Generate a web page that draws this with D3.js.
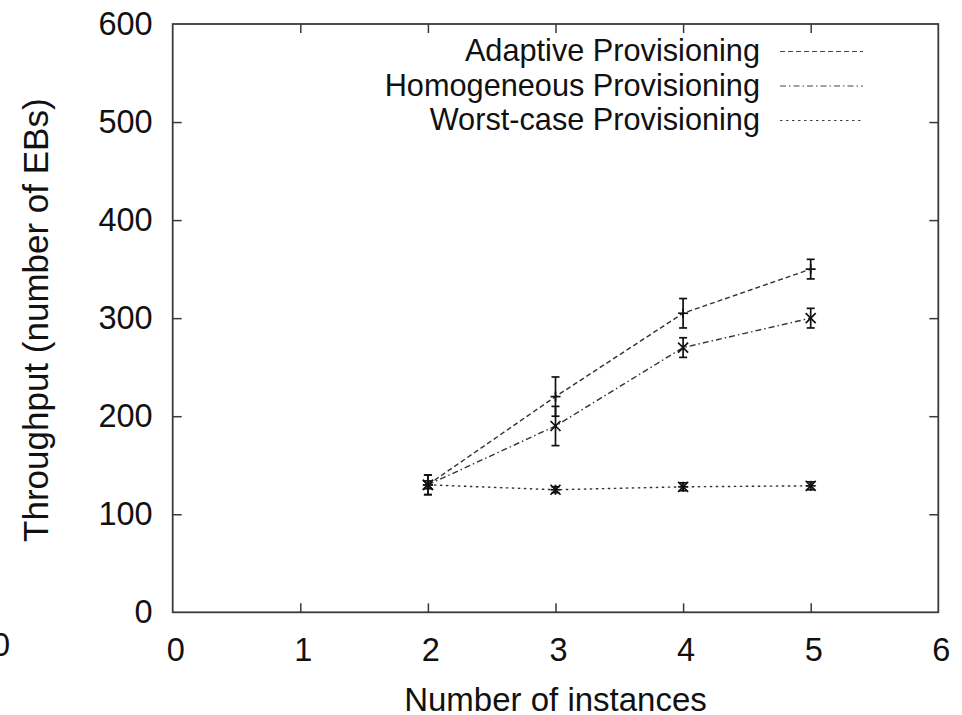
<!DOCTYPE html>
<html>
<head>
<meta charset="utf-8">
<script src="https://cdn.jsdelivr.net/npm/d3@7/dist/d3.min.js"></script>
<style>
  html, body { margin: 0; padding: 0; background: #fff; }
  svg { display: block; font-family: "Liberation Sans", Arial, Helvetica, sans-serif; }
</style>
</head>
<body>
<svg id="chart" width="962" height="715"></svg>
<script>
// ---- data ----
const instances = [2, 3, 4, 5];
const adaptiveMean = [130, 220, 305, 350];
const adaptiveLow  = [120, 200, 290, 340];
const adaptiveHigh = [140, 240, 320, 360];
const homogeneousMean = [130, 190, 270, 300];
const homogeneousLow  = [120, 170, 260, 290];
const homogeneousHigh = [140, 210, 280, 310];
const worstMean = [130, 125, 128, 129];
const worstLow  = [126, 122, 124, 125];
const worstHigh = [134, 128, 132, 133];
const seriesNames = ["Adaptive Provisioning", "Homogeneous Provisioning", "Worst-case Provisioning"];
const xTicks = [0, 1, 2, 3, 4, 5, 6];
const yTicks = [0, 100, 200, 300, 400, 500, 600];
const xTitle = "Number of instances";
const yTitle = "Throughput (number of EBs)";

// ---- layout ----
const svg = d3.select("#chart");
const L = 172.7, R = 938.3, T = 24, B = 612.3;
const x = d3.scaleLinear().domain([0, 6]).range([L, R]);
const y = d3.scaleLinear().domain([0, 600]).range([B, T]);
const tickFs = 32.5, legFs = 30.7;
const frameColor = "#3a3a3a";

// axes (ticks point inward, mirrored)
const gx = svg.append("g").attr("transform", `translate(0,${B})`)
  .call(d3.axisBottom(x).tickValues(xTicks).tickSize(-9).tickFormat(d3.format("d")));
gx.selectAll("text").attr("y", 49).attr("dy", 0).attr("dx", 2.5);
const gxt = svg.append("g").attr("transform", `translate(0,${T})`)
  .call(d3.axisTop(x).tickValues(xTicks).tickSize(-9).tickFormat(""));
const gy = svg.append("g").attr("transform", `translate(${L},0)`)
  .call(d3.axisLeft(y).tickValues(yTicks).tickSize(-9).tickPadding(20).tickFormat(d3.format("d")));
const gyr = svg.append("g").attr("transform", `translate(${R},0)`)
  .call(d3.axisRight(y).tickValues(yTicks).tickSize(-9).tickFormat(""));

[gx, gxt, gy, gyr].forEach(g => {
  g.select(".domain").remove();
  g.selectAll(".tick line").attr("stroke", frameColor).attr("stroke-width", 1.5);
  g.selectAll("text").attr("font-size", tickFs).attr("fill", "#111")
    .attr("font-family", "'Liberation Sans', Arial, Helvetica, sans-serif");
});
// skip mirrored ticks at the corners
[gx, gxt].forEach(g => g.selectAll(".tick").filter(d => d === 0 || d === 6).select("line").remove());
[gy, gyr].forEach(g => g.selectAll(".tick").filter(d => d === 0 || d === 600).select("line").remove());

// frame
svg.append("rect").attr("x", L).attr("y", T).attr("width", R - L).attr("height", B - T)
  .attr("fill", "none").attr("stroke", frameColor).attr("stroke-width", 1.8);

// axis titles
svg.append("text").attr("x", (L + R) / 2).attr("y", 710.5).attr("text-anchor", "middle")
  .attr("font-size", 33).attr("fill", "#111").text(xTitle);
svg.append("text").attr("transform", `translate(48,${(T + B) / 2 + 2}) rotate(-90)`)
  .attr("text-anchor", "middle").attr("font-size", 35).attr("fill", "#111").text(yTitle);

// partial label of a neighbouring figure at the left edge
svg.append("text").attr("x", 1).attr("y", 656).attr("text-anchor", "middle")
  .attr("font-size", tickFs).attr("fill", "#111").text("0");

// ---- series ----
const series = [
  { name: seriesNames[0], mean: adaptiveMean, low: adaptiveLow, high: adaptiveHigh, dash: "5,3", marker: "plus" },
  { name: seriesNames[1], mean: homogeneousMean, low: homogeneousLow, high: homogeneousHigh, dash: "6,3,1.5,3", marker: "cross" },
  { name: seriesNames[2], mean: worstMean, low: worstLow, high: worstHigh, dash: "2.5,3.5", marker: "star" }
];

const line = d3.line().x(d => x(d[0])).y(d => y(d[1]));
const ms = 5, cap = 4;

series.forEach(s => {
  const pts = instances.map((v, i) => [v, s.mean[i], s.low[i], s.high[i]]);
  svg.append("path").datum(pts).attr("d", line).attr("fill", "none")
    .attr("stroke", "#333").attr("stroke-width", 1.4).attr("stroke-dasharray", s.dash);
  const g = svg.append("g").attr("stroke", "#111").attr("stroke-width", 1.7).attr("fill", "none");
  pts.forEach(p => {
    const cx = x(p[0]), cy = y(p[1]), yl = y(p[2]), yh = y(p[3]);
    g.append("line").attr("x1", cx).attr("x2", cx).attr("y1", yl).attr("y2", yh);
    g.append("line").attr("x1", cx - cap).attr("x2", cx + cap).attr("y1", yl).attr("y2", yl);
    g.append("line").attr("x1", cx - cap).attr("x2", cx + cap).attr("y1", yh).attr("y2", yh);
    if (s.marker === "plus" || s.marker === "star") {
      g.append("line").attr("x1", cx - ms).attr("x2", cx + ms).attr("y1", cy).attr("y2", cy);
      g.append("line").attr("x1", cx).attr("x2", cx).attr("y1", cy - ms).attr("y2", cy + ms);
    }
    if (s.marker === "cross" || s.marker === "star") {
      g.append("line").attr("x1", cx - ms).attr("x2", cx + ms).attr("y1", cy - ms).attr("y2", cy + ms);
      g.append("line").attr("x1", cx - ms).attr("x2", cx + ms).attr("y1", cy + ms).attr("y2", cy - ms);
    }
  });
});

// ---- legend ----
const legBase = [61, 95.5, 130];
series.forEach((s, i) => {
  svg.append("text").attr("x", 760).attr("y", legBase[i]).attr("text-anchor", "end")
    .attr("font-size", legFs).attr("fill", "#111").text(s.name);
  svg.append("line").attr("x1", 780).attr("x2", 863)
    .attr("y1", legBase[i] - 9.5).attr("y2", legBase[i] - 9.5)
    .attr("stroke", "#444").attr("stroke-width", 1.2).attr("stroke-dasharray", s.dash);
});
</script>
</body>
</html>
